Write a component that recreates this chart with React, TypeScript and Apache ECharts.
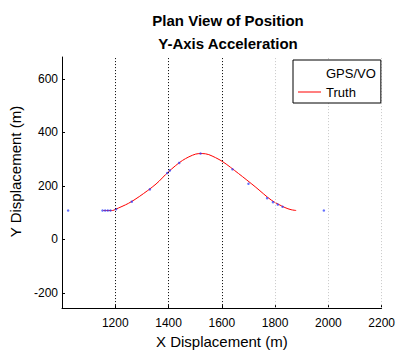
import React, { useEffect, useRef } from "react";
import * as echarts from "echarts";

const titleLines = ["Plan View of Position", "Y-Axis Acceleration"];
const xName = "X Displacement (m)";
const yName = "Y Displacement (m)";
const yTicks = [-200, 0, 200, 400, 600];
const gridDark = [1200, 1400, 1600];
const gridLight = [1800, 2000, 2200];

const truthX = [1154, 1190, 1200, 1250, 1290, 1353, 1400, 1452, 1502, 1526, 1551, 1601, 1663, 1725, 1787, 1837, 1860, 1879];
const truthY = [108, 108, 112, 135, 160, 207, 253, 295, 319, 321, 317, 292, 246, 197, 146, 119, 111, 108];

const gpsX = [1023, 1152, 1162, 1172, 1182, 1203, 1262, 1330, 1395, 1405, 1440, 1520, 1640, 1700, 1770, 1792, 1810, 1828, 1983];
const gpsY = [108, 108, 108, 108, 108, 113, 141, 187, 248, 258, 286, 321, 262, 208, 154, 139, 130, 122, 108];

const FONT = "'Liberation Sans', Arial, Helvetica, sans-serif";
const LINE_ICON = "path://M0,0h0.01v0.01z M0,6.5h23v1h-23z M0,13.99h0.01v0.01z";

export default function App() {
  const ref = useRef<HTMLDivElement>(null);
  useEffect(() => {
    if (!ref.current) return;
    const chart = echarts.init(ref.current, undefined, { renderer: "svg" });
    const markData = [
      ...gridDark.map((v) => ({ xAxis: v, lineStyle: { color: "#000" } })),
      ...gridLight.map((v) => ({ xAxis: v, lineStyle: { color: "#c8c8c8" } })),
    ];
    chart.setOption({
      animation: false,
      backgroundColor: "#fff",
      title: {
        text: titleLines.join("\n"),
        left: 223,
        textAlign: "center",
        top: 4,
        textStyle: { fontFamily: FONT, fontSize: 15, fontWeight: "bold", color: "#000", lineHeight: 23 },
      },
      legend: {
        orient: "vertical",
        left: 293,
        top: 60,
        padding: [6, 5, 4, 5],
        itemGap: 5,
        itemWidth: 23,
        itemHeight: 14,
        borderColor: "#000",
        borderWidth: 1,
        borderRadius: 0,
        backgroundColor: "#fff",
        z: 10,
        textStyle: { fontFamily: FONT, fontSize: 13, color: "#000" },
        data: [
          { name: "GPS/VO", icon: "rect", itemStyle: { color: "rgba(0,0,0,0)", borderWidth: 0 } },
          { name: "Truth", icon: LINE_ICON, itemStyle: { color: "#ff0000", borderWidth: 0 } },
        ],
      },
      grid: { left: 62, right: 13, top: 57, bottom: 41 },
      xAxis: {
        type: "value",
        min: 1000,
        max: 2200,
        interval: 200,
        name: xName,
        nameLocation: "middle",
        nameGap: 22,
        nameTextStyle: { fontFamily: FONT, fontSize: 15, color: "#000" },
        axisLine: { show: true, onZero: false, lineStyle: { color: "#000", width: 1 } },
        axisTick: { show: true, inside: true, length: 3, lineStyle: { color: "#000" } },
        axisLabel: {
          showMinLabel: false,
          margin: 9,
          fontFamily: FONT,
          fontSize: 12,
          color: "#000",
          formatter: (v: number) => String(v),
        },
        splitLine: { show: false },
      },
      yAxis: {
        type: "value",
        min: -257,
        max: 682,
        name: yName,
        nameLocation: "middle",
        nameGap: 37,
        nameTextStyle: { fontFamily: FONT, fontSize: 15, color: "#000", padding: [0, 0, 0, 22] },
        axisLine: { show: true, onZero: false, lineStyle: { color: "#000", width: 1 } },
        axisTick: { show: true, inside: true, length: 3, customValues: yTicks, lineStyle: { color: "#000" } },
        axisLabel: {
          customValues: yTicks,
          margin: 4,
          fontFamily: FONT,
          fontSize: 12,
          color: "#000",
          formatter: (v: number) => String(v),
        },
        splitLine: { show: false },
      },
      series: [
        {
          name: "grid",
          type: "line",
          data: [],
          silent: true,
          markLine: {
            silent: true,
            symbol: "none",
            label: { show: false },
            lineStyle: { type: [1, 2], width: 1 },
            data: markData,
          },
        },
        {
          name: "Truth",
          type: "line",
          data: truthX.map((x, i) => [x, truthY[i]]),
          smooth: 0.3,
          symbol: "none",
          showSymbol: false,
          lineStyle: { color: "#ff0000", width: 1 },
          itemStyle: { color: "#ff0000" },
          z: 3,
        },
        {
          name: "GPS/VO",
          type: "scatter",
          data: gpsX.map((x, i) => [x, gpsY[i]]),
          symbol: "circle",
          symbolSize: 2.5,
          itemStyle: { color: "#3040ff", opacity: 0.75 },
          z: 4,
        },
      ],
    });
    return () => chart.dispose();
  }, []);
  return <div ref={ref} style={{ width: 398, height: 354, position: "absolute", left: 0, top: 0 }} />;
}
